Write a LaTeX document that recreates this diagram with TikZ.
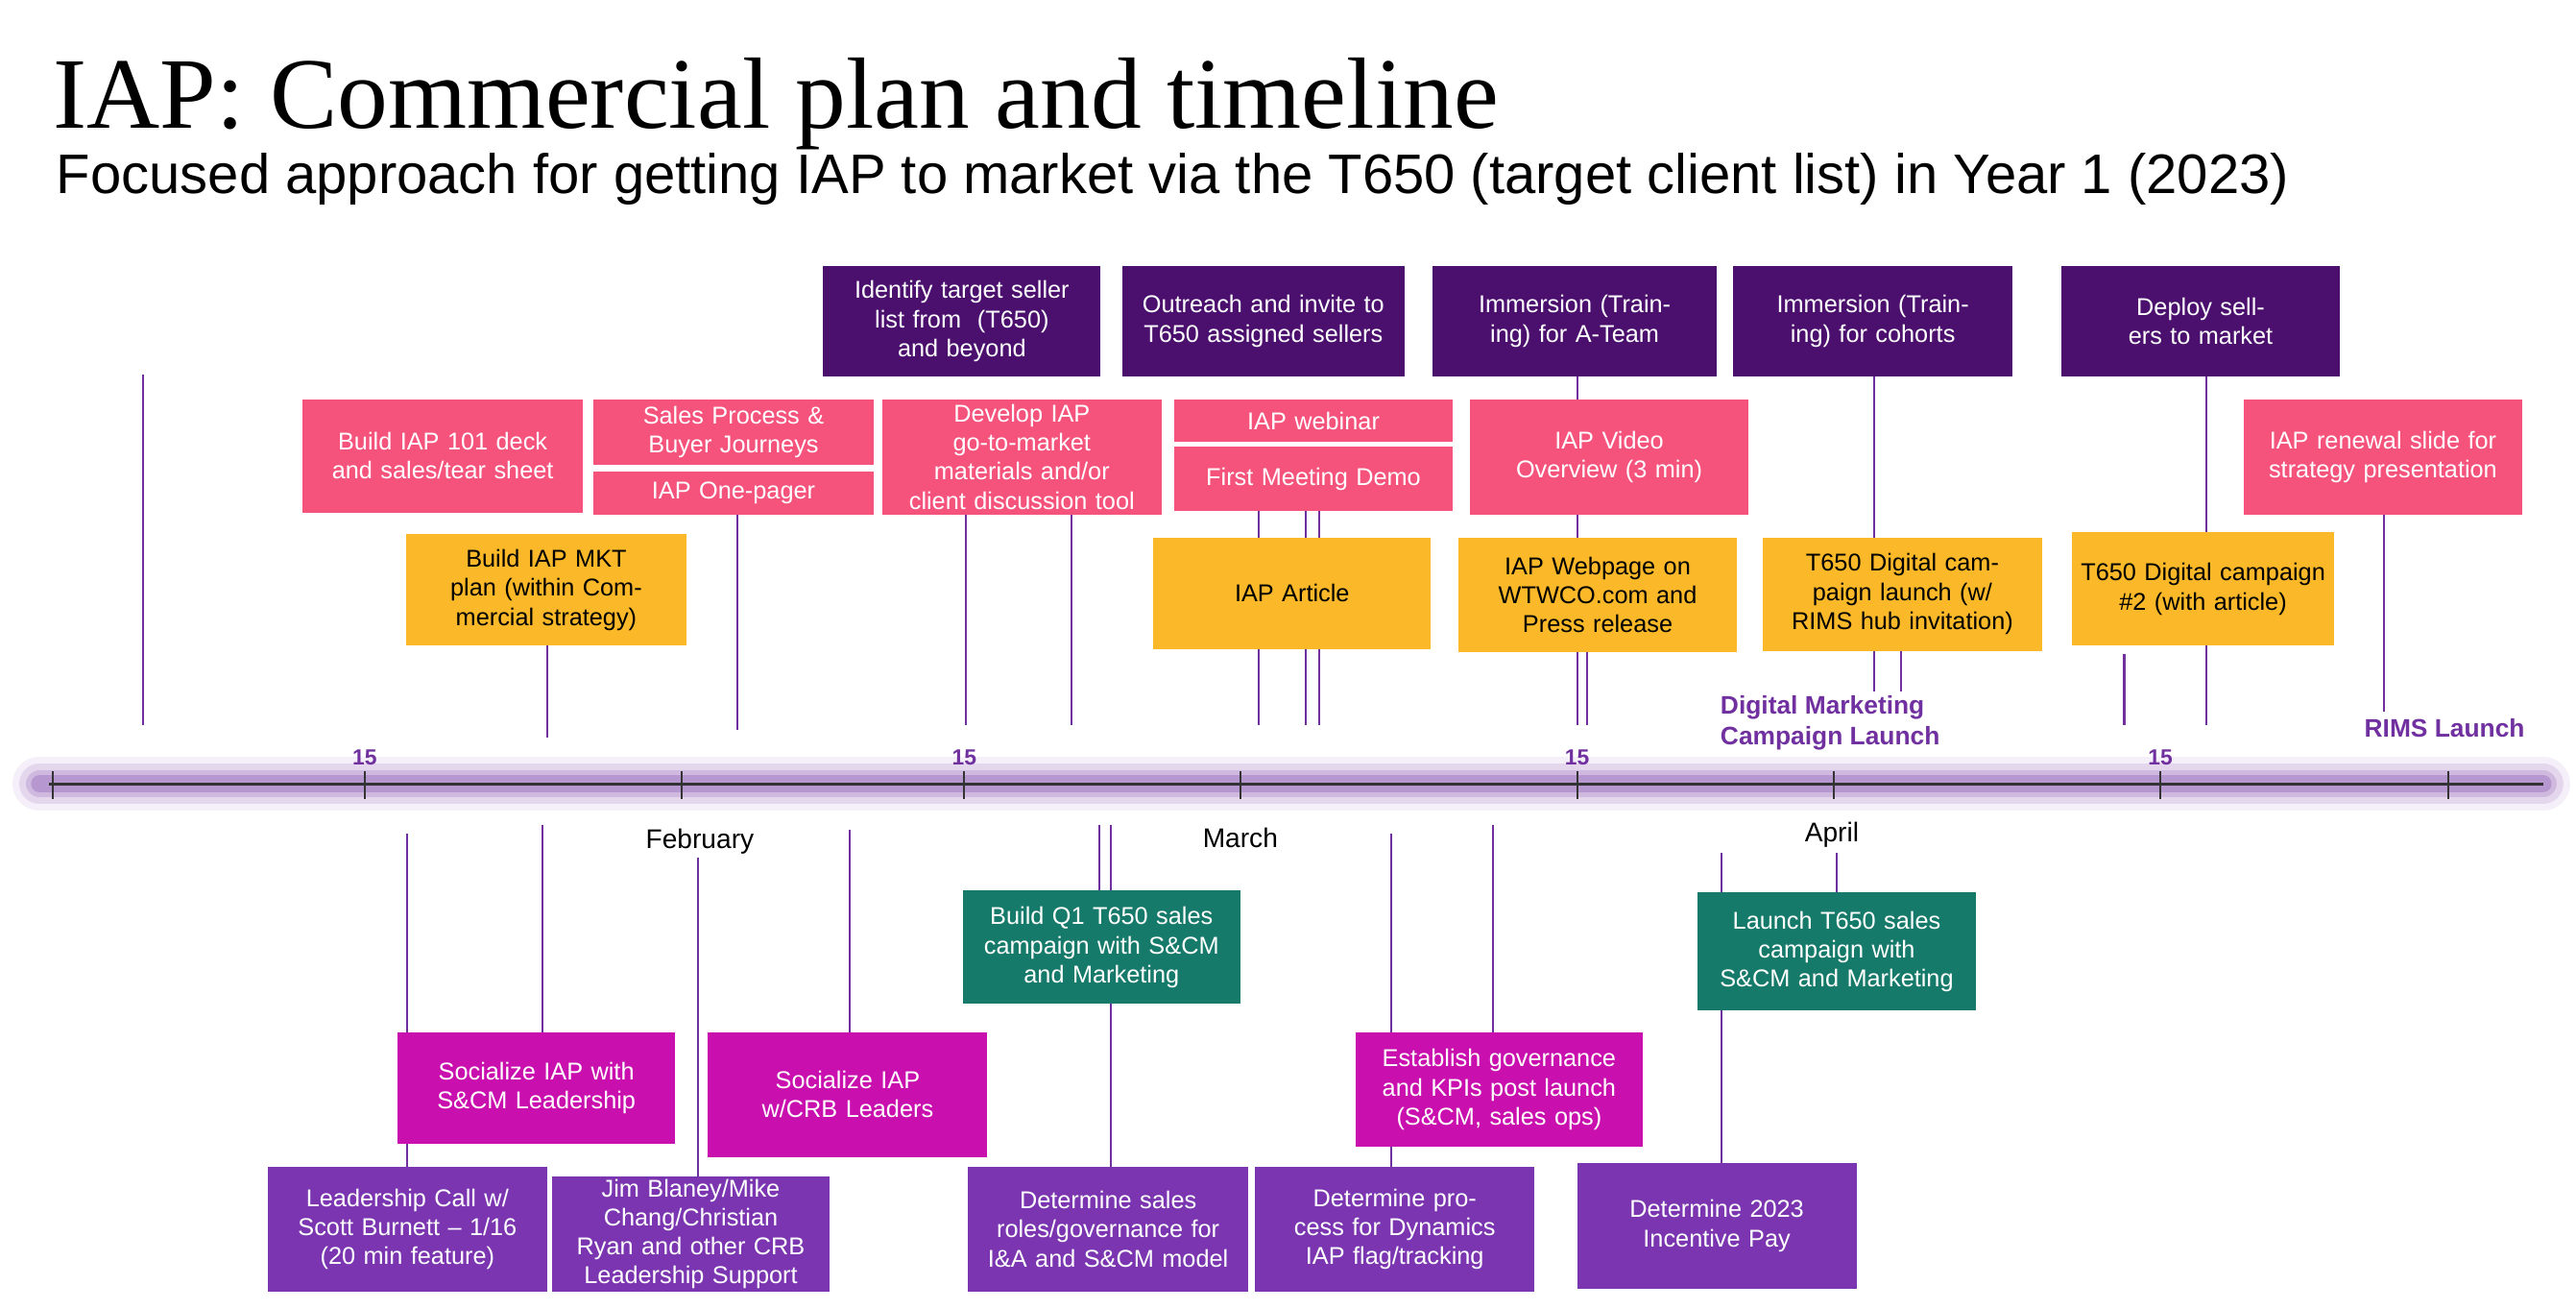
\documentclass[tikz,border=0pt]{standalone}
\usepackage{fontspec}
\setmainfont{Liberation Sans}
\newfontfamily\titlefont{Liberation Serif}
\usetikzlibrary{positioning}
\definecolor{darkpurp}{HTML}{4B0F6E}
\definecolor{pinkbox}{HTML}{F5527C}
\definecolor{orangebox}{HTML}{FBB829}
\definecolor{magbox}{HTML}{C90FAE}
\definecolor{tealbox}{HTML}{167A6A}
\definecolor{midpurp}{HTML}{7B35B0}
\definecolor{linepurp}{HTML}{7030A0}
\newcommand\tlbox[7]{\node[#6, minimum width={(#4-#2)*0.1711mm}, minimum height={(#5-#3)*0.1711mm}, text width={(#4-#2-8)*0.1711mm}] (#1) at ({(#2+#4)/2},{(#3+#5)/2}) {#7};}
\begin{document}
\begin{tikzpicture}[
    x=0.1711mm, y=-0.1711mm,
    box/.style={rectangle, inner sep=0pt, align=center, font=\fontsize{7.2}{8.6}\selectfont},
    dark/.style={box, fill=darkpurp, text=white},
    pink/.style={box, fill=pinkbox, text=white},
    orange/.style={box, fill=orangebox, text=black},
    mag/.style={box, fill=magbox, text=white},
    teal/.style={box, fill=tealbox, text=white},
    mid/.style={box, fill=midpurp, text=white},
    stem/.style={draw=linepurp, line width=0.6pt},
    day/.style={text=linepurp, font=\fontsize{6.5}{7}\selectfont\bfseries},
    month/.style={font=\fontsize{8}{9}\selectfont},
    event/.style={text=linepurp, font=\fontsize{7.5}{9}\selectfont\bfseries, align=left}
]
    \useasboundingbox (0,0) rectangle (1568,796);

    % Title
    \node[anchor=base west, inner sep=0pt, font=\titlefont\fontsize{30}{32}\selectfont] (title) at (32,78) {IAP: Commercial plan and timeline};
    \node[anchor=base west, inner sep=0pt, font=\fontsize{16.5}{18}\selectfont] (subtitle) at (34,118) {Focused approach for getting IAP to market via the T650 (target client list) in Year 1 (2023)};

    % Stems above
    \foreach \x/\a/\b in {87/228/441, 333/393/449, 449/313/444, 588/313/441, 652/313/441, 766/311/441, 795/311/441, 803/311/441, 960/229/441, 966/397/441, 1141/229/421, 1157/396/421, 1293/398/441, 1343/229/441, 1451/313/433}
        \draw[stem] (\x,\a) -- (\x,\b);
    % Stems below
    \foreach \x/\a/\b in {248/507/710, 330/502/628, 425/522/716, 517/505/628, 669/502/542, 676/502/710, 847/507/710, 909/502/628, 1048/519/708, 1118/519/543}
        \draw[stem] (\x,\a) -- (\x,\b);

    % Timeline
    \foreach \w/\o in {16/0.08, 12/0.12, 8/0.18, 5/0.25}
        \draw[line width=\w pt, linepurp, opacity=\o, line cap=round] (24,477) -- (1548,477);
    \draw[line width=0.8pt, black!80] (30,477) coordinate (tstart) -- (1548,477) coordinate (tend);
    \foreach \x in {32, 222, 415, 587, 755, 960, 1116, 1315, 1490}
        \draw[line width=0.6pt, black!80] (\x,469) -- (\x,486);
    \foreach \x in {222, 587, 960, 1315}
        \node[day] (d\x) at (\x,461) {15};
    \node[month] (feb) at (426,512) {February};
    \node[month] (mar) at (755,510) {March};
    \node[month] (apr) at (1115,508) {April};
    \node[event, anchor=west] (dmcl) at (1040,440) {Digital Marketing\\Campaign Launch};
    \node[event] (rims) at (1488,443) {RIMS Launch};

    % Top row
    \tlbox{ident}{501}{162}{670}{229}{dark}{Identify target seller list from~ (T650) and beyond}
    \tlbox{outreach}{683}{162}{855}{229}{dark}{Outreach and invite to T650 assigned sellers}
    \tlbox{immA}{872}{162}{1045}{229}{dark}{Immersion (Training) for A-Team}
    \tlbox{immC}{1055}{162}{1225}{229}{dark}{Immersion (Training) for cohorts}
    \tlbox{deploy}{1255}{162}{1424}{229}{dark}{Deploy sellers to market}

    \tlbox{deck}{184}{243}{355}{312}{pink}{Build IAP 101 deck and sales/tear sheet}
    \tlbox{sales}{361}{243}{532}{283}{pink}{Sales Process \& Buyer Journeys}
    \tlbox{onep}{361}{287}{532}{313}{pink}{IAP One-pager}
    \tlbox{develop}{537}{243}{707}{313}{pink}{Develop IAP go-to-market\\materials and/or client discussion tool}
    \tlbox{webinar}{715}{243}{884}{269}{pink}{IAP webinar}
    \tlbox{demo}{715}{272}{884}{311}{pink}{First Meeting Demo}
    \tlbox{video}{895}{243}{1064}{313}{pink}{IAP Video Overview (3 min)}
    \tlbox{renewal}{1366}{243}{1535}{313}{pink}{IAP renewal slide for strategy presentation}

    \tlbox{mkt}{247}{325}{418}{393}{orange}{Build IAP MKT plan (within Commercial strategy)}
    \tlbox{article}{702}{327}{871}{395}{orange}{IAP Article}
    \tlbox{webpage}{888}{327}{1057}{397}{orange}{IAP Webpage on WTWCO.com and Press release}
    \tlbox{tdigA}{1073}{327}{1243}{396}{orange}{T650 Digital campaign launch (w/ RIMS hub invitation)}
    \tlbox{tdigB}{1261}{324}{1421}{393}{orange}{T650 Digital campaign \#2 (with article)}

    % Bottom row
    \tlbox{q1}{586}{542}{755}{611}{teal}{Build Q1 T650 sales campaign with S\&CM and Marketing}
    \tlbox{launch}{1033}{543}{1203}{615}{teal}{Launch T650 sales campaign with S\&CM and Marketing}

    \tlbox{socS}{242}{628}{411}{696}{mag}{Socialize IAP with S\&CM Leadership}
    \tlbox{socCRB}{431}{628}{601}{704}{mag}{Socialize IAP w/CRB Leaders}
    \tlbox{govern}{825}{628}{1000}{698}{mag}{Establish governance and KPIs post launch (S\&CM, sales ops)}

    \tlbox{leader}{163}{710}{333}{786}{mid}{Leadership Call w/ Scott Burnett -- 1/16 (20 min feature)}
    \tlbox{jim}{336}{716}{505}{786}{mid}{Jim Blaney/Mike Chang/Christian Ryan and other CRB Leadership Support}
    \tlbox{roles}{589}{710}{760}{786}{mid}{Determine sales roles/governance for I\&A and S\&CM model}
    \tlbox{dyn}{764}{710}{934}{786}{mid}{Determine process for Dynamics IAP flag/tracking}
    \tlbox{incent}{960}{708}{1130}{784}{mid}{Determine 2023 Incentive Pay}

\end{tikzpicture}
\end{document}
